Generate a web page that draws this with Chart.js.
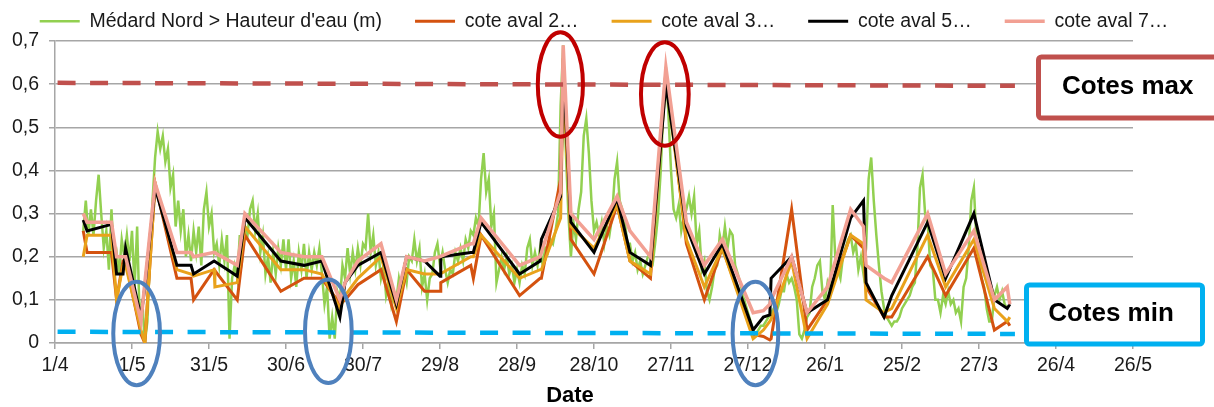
<!DOCTYPE html>
<html>
<head>
<meta charset="utf-8">
<script src="https://cdn.jsdelivr.net/npm/chart.js@4.4.1/dist/chart.umd.min.js"></script>
<style>
  html, body { margin: 0; padding: 0; background: #fff; }
</style>
</head>
<body>
<canvas id="chartCotes" width="1214" height="407"></canvas>
<script>
// Axe X : jours depuis le 1/4, une graduation tous les 30 jours
const xTickLabels = ['1/4', '1/5', '31/5', '30/6', '30/7', '29/8', '28/9', '28/10',
  '27/11', '27/12', '26/1', '25/2', '27/3', '26/4', '26/5'];

// Médard Nord > Hauteur d'eau (m) : une valeur par jour à partir du jour 11
const medardStart = 11;
const medardVals = [
  0.26, 0.33, 0.25, 0.31, 0.25, 0.33, 0.39, 0.30, 0.22, 0.26,
  0.17, 0.31, 0.19, 0.21, 0.16, 0.24, 0.20, 0.25, 0.19, 0.26,
  0.13, 0.27, 0.05, 0.10, 0.00, 0.05, 0.20, 0.33, 0.43, 0.49,
  0.45, 0.48, 0.42, 0.45, 0.36, 0.39, 0.27, 0.33, 0.26, 0.31,
  0.20, 0.25, 0.19, 0.26, 0.21, 0.27, 0.18, 0.31, 0.35, 0.27,
  0.30, 0.21, 0.23, 0.18, 0.24, 0.19, 0.25, 0.01, 0.15, 0.18,
  0.15, 0.25, 0.20, 0.27, 0.25, 0.31, 0.33, 0.26, 0.30, 0.21,
  0.25, 0.16, 0.20, 0.14, 0.21, 0.16, 0.22, 0.18, 0.24, 0.17,
  0.24, 0.15, 0.19, 0.13, 0.21, 0.17, 0.23, 0.15, 0.21, 0.17,
  0.21, 0.18, 0.22, 0.16, 0.09, 0.13, 0.01, 0.06, 0.01, 0.12,
  0.10, 0.18, 0.15, 0.22, 0.16, 0.21, 0.17, 0.22, 0.18, 0.23,
  0.22, 0.30, 0.21, 0.25, 0.18, 0.21, 0.15, 0.18, 0.11, 0.14,
  0.09, 0.12, 0.10, 0.15, 0.12, 0.17, 0.14, 0.20, 0.19, 0.24,
  0.19, 0.22, 0.13, 0.16, 0.10, 0.15, 0.16, 0.21, 0.23, 0.18,
  0.21, 0.17, 0.14, 0.17, 0.16, 0.21, 0.19, 0.22, 0.19, 0.24,
  0.22, 0.26, 0.25, 0.29, 0.27, 0.38, 0.44, 0.35, 0.38, 0.27,
  0.30, 0.14, 0.17, 0.20, 0.17, 0.20, 0.16, 0.18, 0.14, 0.17,
  0.14, 0.18, 0.16, 0.22, 0.24, 0.18, 0.21, 0.18, 0.22, 0.18,
  0.22, 0.21, 0.24, 0.23, 0.26, 0.30, 0.55, 0.69, 0.45, 0.30,
  0.20, 0.28, 0.24, 0.31, 0.35, 0.48, 0.52, 0.44, 0.33, 0.26,
  0.28, 0.25, 0.28, 0.23, 0.27, 0.25, 0.29, 0.38, 0.42, 0.33,
  0.31, 0.28, 0.23, 0.23, 0.19, 0.21, 0.17, 0.19, 0.16, 0.18,
  0.20, 0.21, 0.19, 0.24, 0.30, 0.40, 0.54, 0.64, 0.53, 0.40,
  0.31, 0.29, 0.32, 0.26, 0.29, 0.31, 0.34, 0.30, 0.34, 0.23,
  0.26, 0.17, 0.19, 0.12, 0.10, 0.13, 0.17, 0.18, 0.25, 0.22,
  0.27, 0.22, 0.26, 0.25, 0.18, 0.16, 0.14, 0.11, 0.09, 0.07,
  0.05, 0.03, 0.02, 0.03, 0.04, 0.04, 0.05, 0.06, 0.07, 0.08,
  0.07, 0.09, 0.12, 0.12, 0.16, 0.14, 0.15, 0.13, 0.10, 0.02,
  0.01, 0.03, 0.06, 0.07, 0.13, 0.15, 0.18, 0.19, 0.12, 0.10,
  0.14, 0.12, 0.32, 0.20, 0.17, 0.15, 0.20, 0.22, 0.24, 0.25,
  0.21, 0.23, 0.17, 0.20, 0.16, 0.22, 0.38, 0.43, 0.33, 0.25,
  0.18, 0.12, 0.08, 0.06, 0.05, 0.04, 0.05, 0.05, 0.06, 0.08,
  0.09, 0.10, 0.11, 0.13, 0.14, 0.22, 0.36, 0.39, 0.30, 0.28,
  0.18, 0.17, 0.10, 0.10, 0.07, 0.11, 0.09, 0.12, 0.09, 0.10,
  0.07, 0.08, 0.05, 0.13, 0.15, 0.22, 0.33, 0.36, 0.24, 0.19,
  0.15, 0.13, 0.08, 0.05, 0.05, 0.11, 0.13, 0.10, 0.12, 0.09,
  0.08
];

// Cotes aval : sommets communs (jours depuis le 1/4)
const coteDays = [11, 12.5, 22, 24, 26.5, 27.5, 33.5, 35, 39, 47.5,
  53, 54, 62, 62.3, 71, 74, 88, 97, 104, 111,
  113, 118, 127, 133, 137, 144, 150, 150.3, 162, 163,
  166, 181, 189, 189.5, 197, 198, 201, 210, 219, 224,
  232, 238, 246, 253, 260, 272, 276, 278.5, 279, 287,
  293, 301, 310, 315, 316, 323, 326, 340, 347, 358,
  366, 371, 372];
const coteAval2 = [0.26, 0.21, 0.21, 0.10, 0.19, 0.19, 0.02, 0.00, 0.37, 0.15,
  0.15, 0.10, 0.17, 0.17, 0.10, 0.25, 0.12, 0.15, 0.15, 0.09,
  0.10, 0.135, 0.17, 0.05, 0.17, 0.12, 0.12, 0.14, 0.18, 0.15,
  0.25, 0.11, 0.15, 0.15, 0.38, 0.66, 0.24, 0.16, 0.32, 0.19,
  0.15, 0.63, 0.23, 0.10, 0.22, 0.02, 0.015, 0.007, 0.01, 0.31,
  0.03, 0.10, 0.25, 0.22, 0.13, 0.06, 0.06, 0.20, 0.11, 0.22,
  0.03, 0.05, 0.04];
const coteAval3 = [0.20, 0.25, 0.25, 0.10, 0.18, 0.18, 0.03, 0.00, 0.37, 0.17,
  0.16, 0.155, 0.17, 0.13, 0.14, 0.27, 0.17, 0.17, 0.16, 0.08,
  0.11, 0.15, 0.20, 0.08, 0.17, 0.16, 0.16, 0.16, 0.20, 0.20,
  0.25, 0.15, 0.17, 0.17, 0.29, 0.60, 0.27, 0.22, 0.32, 0.19,
  0.16, 0.61, 0.24, 0.13, 0.22, 0.01, 0.03, 0.05, 0.055, 0.19,
  0.01, 0.09, 0.25, 0.23, 0.10, 0.07, 0.08, 0.25, 0.13, 0.24,
  0.08, 0.05, 0.06];
const coteAval5 = [0.285, 0.26, 0.275, 0.16, 0.16, 0.22, 0.06, 0.13, 0.36, 0.18,
  0.18, 0.16, 0.19, 0.19, 0.155, 0.29, 0.19, 0.18, 0.19, 0.06,
  0.14, 0.18, 0.21, 0.09, 0.20, 0.19, 0.155, 0.20, 0.21, 0.21,
  0.28, 0.16, 0.19, 0.24, 0.34, 0.64, 0.28, 0.21, 0.335, 0.21,
  0.18, 0.60, 0.27, 0.16, 0.23, 0.03, 0.06, 0.065, 0.15, 0.20,
  0.07, 0.10, 0.29, 0.33, 0.14, 0.06, 0.11, 0.28, 0.15, 0.30,
  0.10, 0.08, 0.09];
const coteAval7 = [0.30, 0.28, 0.28, 0.20, 0.20, 0.20, 0.05, 0.14, 0.37, 0.21,
  0.21, 0.20, 0.21, 0.21, 0.18, 0.30, 0.21, 0.20, 0.20, 0.10,
  0.14, 0.19, 0.23, 0.10, 0.20, 0.19, 0.20, 0.20, 0.23, 0.23,
  0.29, 0.18, 0.20, 0.21, 0.35, 0.69, 0.30, 0.24, 0.34, 0.26,
  0.20, 0.64, 0.28, 0.18, 0.24, 0.07, 0.075, 0.09, 0.10, 0.20,
  0.07, 0.13, 0.31, 0.27, 0.18, 0.15, 0.14, 0.30, 0.16, 0.26,
  0.10, 0.13, 0.09];

// Seuils tracés en pointillés
const cotesMaxDays = [1, 374];
const cotesMaxVals = [0.603, 0.596];
const cotesMinDays = [1, 374];
const cotesMinVals = [0.026, 0.021];

// Ellipses d'annotation (centre et rayons en unités des axes)
const ellipses = [
  { day: 196.9, val: 0.599, rDays: 8.8, rVal: 0.121, color: '#c00000' },
  { day: 237.6, val: 0.577, rDays: 9.3, rVal: 0.120, color: '#c00000' },
  { day: 31.8, val: 0.022, rDays: 9.1, rVal: 0.120, color: '#4f81bd' },
  { day: 106.5, val: 0.027, rDays: 9.1, rVal: 0.120, color: '#4f81bd' },
  { day: 272.9, val: 0.022, rDays: 8.9, rVal: 0.120, color: '#4f81bd' }
];

const toPoints = (days, vals) => vals.map((v, i) => ({ x: days[i], y: v }));
const medardPoints = medardVals.map((v, i) => ({ x: medardStart + i, y: v }));

const gridColor = '#a6a6a6';
const fontFamily = "'Liberation Sans', Arial, sans-serif";
Chart.defaults.font.family = fontFamily;
Chart.defaults.color = '#1a1a1a';

function lineSet(label, data, color, width, order) {
  return {
    label, data, order,
    borderColor: color, backgroundColor: color,
    borderWidth: width, pointRadius: 0, tension: 0, fill: false
  };
}

function dashSet(label, data, color) {
  return {
    label, data, order: 0,
    borderColor: color, backgroundColor: color,
    borderWidth: 4.5, borderDash: [18, 14.5], pointRadius: 0, fill: false
  };
}

// Cadres de texte, ellipses et titre de l'axe X
const annotations = {
  id: 'annotations',
  afterDraw(chart) {
    const { ctx, scales: { x, y } } = chart;
    ctx.save();

    ellipses.forEach(e => {
      const cx = x.getPixelForValue(e.day);
      const cy = y.getPixelForValue(e.val);
      const rx = x.getPixelForValue(e.day + e.rDays) - cx;
      const ry = cy - y.getPixelForValue(e.val + e.rVal);
      ctx.beginPath();
      ctx.ellipse(cx, cy, rx, ry, 0, 0, Math.PI * 2);
      ctx.lineWidth = 4;
      ctx.strokeStyle = e.color;
      ctx.stroke();
    });

    const box = (bx, by, bw, bh, color) => {
      ctx.beginPath();
      if (ctx.roundRect) ctx.roundRect(bx, by, bw, bh, 3);
      else ctx.rect(bx, by, bw, bh);
      ctx.fillStyle = '#ffffff';
      ctx.fill();
      ctx.lineWidth = 5;
      ctx.strokeStyle = color;
      ctx.stroke();
    };

    ctx.font = 'bold 26px ' + fontFamily;
    ctx.textBaseline = 'middle';

    box(1038.5, 57, 190, 61, '#c0504d');
    ctx.fillStyle = '#000000';
    ctx.textAlign = 'left';
    ctx.fillText('Cotes max', 1062, 87);

    box(1026.5, 285, 176, 59, '#00b0f0');
    ctx.fillStyle = '#000000';
    ctx.textAlign = 'center';
    ctx.fillText('Cotes min', 1111, 314);

    ctx.font = 'bold 22px ' + fontFamily;
    ctx.fillStyle = '#000000';
    ctx.fillText('Date', 570, 396);

    ctx.restore();
  }
};

const ctx = document.getElementById('chartCotes').getContext('2d');
new Chart(ctx, {
  type: 'line',
  data: {
    datasets: [
      lineSet("Médard Nord > Hauteur d'eau (m)", medardPoints, '#92d050', 2.5, 6),
      lineSet('cote aval 2…', toPoints(coteDays, coteAval2), '#d4520f', 3, 5),
      lineSet('cote aval 3…', toPoints(coteDays, coteAval3), '#e9a21b', 3, 4),
      lineSet('cote aval 5…', toPoints(coteDays, coteAval5), '#000000', 3, 3),
      lineSet('cote aval 7…', toPoints(coteDays, coteAval7), '#f2a093', 3.5, 2),
      dashSet('Cotes max', toPoints(cotesMaxDays, cotesMaxVals), '#c0504d'),
      dashSet('Cotes min', toPoints(cotesMinDays, cotesMinVals), '#00b0f0')
    ]
  },
  options: {
    responsive: false,
    animation: false,
    layout: { padding: { top: -21.5, left: 0, right: 6, bottom: 0 } },
    plugins: {
      tooltip: { enabled: false },
      legend: {
        position: 'top',
        labels: {
          usePointStyle: true,
          pointStyle: 'line',
          pointStyleWidth: 40,
          padding: 33,
          font: { size: 19.5 },
          color: '#1a1a1a',
          filter: (item) => item.datasetIndex < 5,
          sort: (a, b) => a.datasetIndex - b.datasetIndex
        }
      }
    },
    scales: {
      x: {
        type: 'linear',
        min: 0,
        max: 420,
        ticks: {
          stepSize: 30,
          autoSkip: false,
          maxRotation: 0,
          padding: 5,
          font: { size: 19.5 },
          callback: (v) => xTickLabels[Math.round(v / 30)]
        },
        grid: { drawOnChartArea: false, tickLength: 6, color: gridColor, lineWidth: 1.5 },
        border: { color: gridColor, width: 1.5 },
        afterFit: (s) => { s.height = 64; }
      },
      y: {
        min: 0,
        max: 0.7,
        ticks: {
          stepSize: 0.1,
          padding: 10,
          font: { size: 19.5 },
          callback: (v) => (v === 0 ? '0' : v.toFixed(1).replace('.', ','))
        },
        grid: { color: gridColor, lineWidth: 1.5, tickLength: 6 },
        border: { color: gridColor, width: 1.5 },
        afterFit: (s) => { s.width = 55; }
      },
      yR: {
        position: 'right',
        min: 0,
        max: 1,
        grid: { display: false },
        border: { display: false },
        ticks: { display: false },
        afterFit: (s) => { s.width = 75; }
      }
    }
  },
  plugins: [annotations]
});
</script>
</body>
</html>
